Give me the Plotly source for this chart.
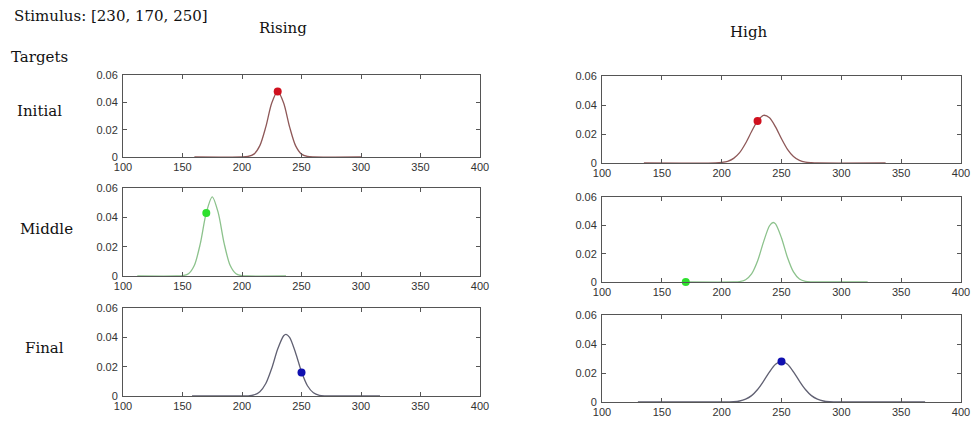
import plotly.graph_objects as go

W, H = 971, 423

# ---- data ----
stimulus = [230, 170, 250]
row_labels = ["Initial", "Middle", "Final"]
col_titles = ["Rising", "High"]

# Rising / Initial
ri_x = [160, 200, 205, 210, 215, 220, 225, 230, 235, 240, 245, 250, 255, 260, 300]
ri_y = [0, 0, 0.0004, 0.0021, 0.0083, 0.022, 0.0395, 0.048, 0.0395, 0.022, 0.0083, 0.0021, 0.0004, 0, 0]
# High / Initial
hi_x = [135, 195, 200, 205, 210, 215, 220, 225, 230, 235, 240, 245, 250, 255, 260, 265, 270, 275, 280, 337]
hi_y = [0, 0.0001, 0.0004, 0.0012, 0.0032, 0.0071, 0.0136, 0.0217, 0.0291, 0.0329, 0.0312, 0.0249,
        0.0167, 0.0094, 0.0045, 0.0018, 0.0006, 0.0002, 0, 0]
# Rising / Middle
rm_x = [112, 145, 150, 155, 160, 165, 170, 175, 180, 185, 190, 195, 200, 205, 237]
rm_y = [0, 0, 0.0002, 0.0015, 0.0073, 0.0222, 0.0432, 0.054, 0.0432, 0.0222, 0.0073, 0.0015, 0.0002, 0, 0]
# High / Middle
hm_x = [170, 210, 215, 220, 225, 230, 235, 240, 243, 245, 250, 255, 260, 265, 270, 275, 280, 322]
hm_y = [0, 0, 0.0003, 0.0016, 0.0057, 0.0148, 0.0283, 0.0397, 0.042, 0.041, 0.0311, 0.0173,
        0.0071, 0.0021, 0.0005, 0.0001, 0, 0]
# Rising / Final
rf_x = [158, 200, 205, 210, 215, 220, 225, 230, 235, 237, 240, 245, 250, 255, 260, 265, 270, 275, 316]
rf_y = [0, 0, 0.0001, 0.0007, 0.0029, 0.0085, 0.0189, 0.032, 0.0411, 0.042, 0.04, 0.0295, 0.0165,
        0.007, 0.0022, 0.0005, 0.0001, 0, 0]
# High / Final
hf_x = [130, 200, 205, 210, 215, 220, 225, 230, 235, 240, 245, 250, 255, 260, 265, 270, 275, 280,
        285, 290, 295, 300, 370]
hf_y = [0, 0, 0.0001, 0.0002, 0.0007, 0.002, 0.0044, 0.0086, 0.0144, 0.0208, 0.026, 0.028, 0.026,
        0.0208, 0.0144, 0.0086, 0.0044, 0.002, 0.0007, 0.0002, 0.0001, 0, 0]

# target markers (x, y)
marker_x = [[230, 230], [170, 170], [250, 250]]
marker_y = [[0.048, 0.029], [0.043, 0.0], [0.016, 0.028]]

curves = [[(ri_x, ri_y), (hi_x, hi_y)],
          [(rm_x, rm_y), (hm_x, hm_y)],
          [(rf_x, rf_y), (hf_x, hf_y)]]

x_ticks = [100, 150, 200, 250, 300, 350, 400]
y_ticks = [0, 0.02, 0.04, 0.06]
y_tick_text = ["0", "0.02", "0.04", "0.06"]

line_colors = ["#8e5858", "#8cc28c", "#606072"]
marker_colors = ["#d0101e", "#2ee02e", "#1010b0"]

# ---- layout geometry (pixels) ----
col_px = [(123, 480), (602, 961)]
row_px = [[(75, 157), (188, 276), (308, 396)],
          [(76, 163), (197, 282), (315, 402)]]

fig = go.Figure()
layout = dict(
    width=W, height=H, margin=dict(l=0, r=0, t=0, b=0, autoexpand=False),
    paper_bgcolor="white", plot_bgcolor="white", showlegend=False,
)

n = 0
for r in range(3):
    for c in range(2):
        n += 1
        xa = "x" if n == 1 else f"x{n}"
        ya = "y" if n == 1 else f"y{n}"
        xk = "xaxis" if n == 1 else f"xaxis{n}"
        yk = "yaxis" if n == 1 else f"yaxis{n}"
        x0, x1 = col_px[c]
        t0, b0 = row_px[c][r]
        axis_common = dict(
            showline=True, linecolor="#555555", linewidth=1, mirror="ticks",
            ticks="inside", ticklen=4, tickcolor="#555555", showgrid=False, zeroline=False,
            automargin=False,
            tickfont=dict(family="Liberation Sans, Arial", size=11, color="#333333"),
        )
        layout[xk] = dict(domain=[x0 / W, x1 / W], range=[100, 400], tickvals=x_ticks,
                          anchor=ya, ticklabelstandoff=0, **axis_common)
        layout[yk] = dict(domain=[1 - b0 / H, 1 - t0 / H], range=[0, 0.06], tickvals=y_ticks,
                          ticktext=y_tick_text, anchor=xa, ticklabelstandoff=2, **axis_common)
        cx, cy = curves[r][c]
        fig.add_trace(go.Scatter(x=cx, y=cy, mode="lines", xaxis=xa, yaxis=ya,
                                 line=dict(color=line_colors[r], width=1.3, shape="spline",
                                           smoothing=0.8),
                                 cliponaxis=False, hoverinfo="skip"))
        fig.add_trace(go.Scatter(x=[marker_x[r][c]], y=[marker_y[r][c]], mode="markers",
                                 xaxis=xa, yaxis=ya, cliponaxis=False,
                                 marker=dict(color=marker_colors[r], size=8, line=dict(width=0))))

fig.update_layout(**layout)

serif = "DejaVu Serif, Liberation Serif, serif"


def txt(s, px, py, anchor="left", size=15):
    fig.add_annotation(text=s, xref="paper", yref="paper", x=px / W, y=1 - py / H,
                       xanchor=anchor, yanchor="middle", showarrow=False, borderpad=0,
                       font=dict(family=serif, size=size, color="#111111"))


txt("Stimulus: [" + ", ".join(str(v) for v in stimulus) + "]", 13, 16)
txt(col_titles[0], 283, 28, anchor="center")
txt(col_titles[1], 748, 32, anchor="center")
txt("Targets", 10, 57)
txt(row_labels[0], 16, 111)
txt(row_labels[1], 19, 229)
txt(row_labels[2], 24, 348)

fig.write_html(
    "out.html",
    config={"displayModeBar": False},
    post_script="document.body.style.margin='0';document.body.style.padding='0';",
)
